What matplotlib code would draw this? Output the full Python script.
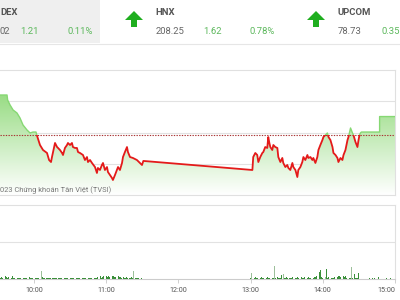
import numpy as np
import matplotlib
matplotlib.use("Agg")
import matplotlib.pyplot as plt
from matplotlib.patches import Rectangle, Polygon

plt.rcParams['font.family'] = ['Roboto', 'DejaVu Sans']

# index levels
ref_price = 1100.81
close_price = 1102.02

# intraday VN-Index (minutes after 9:00)
price_t = [31.7, 37.5, 38.0, 40.0, 42.5, 45.7, 48.2, 50.7, 54.0, 56.5, 58.9, 61.4,
           62.2, 64.7, 67.2, 70.5, 72.2, 73.8, 74.6, 75.5, 77.1, 78.8, 79.6, 81.2,
           82.9, 83.7, 85.3, 87.0, 87.8, 89.5, 91.1, 91.9, 93.6, 95.2, 96.1, 97.7,
           100.2, 101.8, 103.5, 104.3, 106.0, 107.6, 110.1, 111.7, 112.5, 114.2, 115.8, 116.7,
           118.3, 120.0, 120.8, 122.4, 124.1, 124.9, 126.6, 128.2, 129.1, 130.7, 132.4, 133.2,
           134.8, 136.5, 137.3, 139.0, 141.4, 144.7, 147.2, 148.9, 150.0,
           240.0, 240.7, 242.4, 244.0, 244.9, 246.5, 248.2, 249.0, 250.6, 252.3, 253.1, 254.0,
           254.8, 256.4, 257.3, 258.9, 260.6, 261.4, 263.1, 264.7, 265.5, 267.2, 268.8, 269.7,
           271.3, 273.0, 273.8, 275.5, 277.1, 277.9, 279.6, 281.2, 282.1, 283.7, 285.4, 286.2,
           287.9, 289.5, 290.3, 292.0, 293.6, 294.5, 296.1, 297.8, 298.6, 300.3, 301.9, 302.8,
           304.4, 306.1, 306.9, 308.6, 310.2, 311.0, 312.7, 314.3, 315.2, 316.8, 318.5, 319.3,
           321.0, 322.6, 323.4, 325.1, 326.7, 327.6, 328.4, 329.2, 330.0, 345.0, 345.0, 360.0]
price_v = [1103.40, 1103.40, 1103.08, 1102.76, 1102.44, 1102.25, 1101.93, 1101.48, 1101.16, 1100.97, 1101.03, 1101.03,
           1100.81, 1100.20, 1099.88, 1099.69, 1099.24, 1099.11, 1099.43, 1099.75, 1100.33, 1100.07, 1100.01, 1099.88,
           1099.69, 1099.56, 1100.01, 1100.20, 1100.33, 1100.20, 1100.33, 1100.07, 1100.01, 1100.01, 1099.75, 1099.69,
           1099.56, 1099.24, 1099.43, 1099.11, 1099.24, 1099.05, 1098.79, 1098.41, 1098.73, 1098.60, 1098.92, 1099.05,
           1098.60, 1098.79, 1098.47, 1098.28, 1098.09, 1097.96, 1098.28, 1098.60, 1098.79, 1098.60, 1099.05, 1099.43,
           1099.75, 1100.07, 1099.75, 1099.43, 1099.37, 1099.24, 1099.05, 1098.92, 1099.18,
           1098.60, 1099.43, 1099.69, 1099.56, 1099.11, 1099.43, 1099.69, 1099.75, 1100.07, 1100.01, 1100.71, 1100.33,
           1100.07, 1099.88, 1100.20, 1100.07, 1100.01, 1099.43, 1099.11, 1099.37, 1099.05, 1098.79, 1098.92, 1098.73,
           1098.60, 1099.05, 1098.79, 1098.60, 1098.15, 1098.60, 1098.79, 1099.11, 1099.43, 1099.24, 1099.56, 1099.37,
           1099.43, 1099.24, 1099.37, 1099.05, 1099.43, 1099.88, 1100.20, 1100.52, 1100.71, 1100.84, 1100.97, 1100.71,
           1100.52, 1100.07, 1099.69, 1099.56, 1099.37, 1099.11, 1099.37, 1099.24, 1099.56, 1099.88, 1100.52, 1100.71,
           1101.29, 1100.97, 1100.84, 1100.39, 1100.07, 1100.52, 1100.84, 1100.97, 1101.03, 1101.03, 1102.02, 1102.02]

# volume per minute
vol_morning_start = 32
vol_morning = [2, 3, 1.5, 2, 4, 2.5, 1.5, 3, 2, 1.5, 3.5, 2, 1.5, 2, 1, 1.5,
               1, 1.5, 1, 1, 1.5, 1, 1, 1, 3, 1, 1.5, 1,
               1, 1.5, 1, 1, 1.5, 1, 11, 2.5, 2, 1.5, 2, 1.5, 1, 1.5, 1, 1,
               0.7, 0.7, 1, 0.7, 0.7, 0.7, 1, 0.7, 0.7, 0.7, 0.7, 1, 0.7, 0.7, 0.7, 1, 0.7, 0.7, 0.7, 1,
               1, 1.5, 1, 1, 1, 1.5, 1, 1, 1, 1.5, 1, 1, 1, 1.5, 1,
               1.5, 2, 3, 2.5, 4, 2, 3, 4.5, 2, 3.5, 2.5, 4, 3, 2, 3.5, 4.5, 2.5, 3, 2, 3.5, 2.5, 3, 2, 2.5, 1.5,
               2, 2.5, 2, 1.5, 2, 2.5, 2, 11, 1.5, 1, 2, 1, 1.5, 1]
vol_afternoon_start = 240
vol_afternoon = [1, 7.5, 2, 1.5, 2.5, 1.5, 2, 1.5, 2, 2.5, 1.5, 2, 1.5, 2, 2.5, 1.5, 2, 1.5, 2,
                 1.5, 18, 2, 2.5, 1.5, 2, 1.5, 5, 7, 2, 1.5, 2.5, 2, 1.5, 2, 1.5, 2.5, 2, 1.5, 2,
                 2.5, 1.5, 2, 3, 1.5, 2, 2.5, 1.5, 2, 3, 2, 1.5, 2.5, 2, 3, 2.5, 4, 6, 9.5, 12,
                 3, 2, 26.5, 3, 14, 2, 2.5, 1.5, 2, 1.5, 2, 2.5, 2, 3, 3.5, 4, 3, 3.5, 4, 3, 3.5,
                 2, 2.5, 2, 1.5, 16.5, 2, 7, 1.5, 1, 2, 8.5]
vol_late_t = [339, 341, 343, 345, 346, 350, 353, 356]
vol_late = [1, 1, 1, 67, 3, 1, 1.5, 1]
light_bars = [66, 143, 241, 260, 267, 302, 324]

hours = [60, 120, 180, 240, 300, 360]
hour_labels = ['10:00', '11:00', '12:00', '13:00', '14:00', '15:00']

fig = plt.figure(figsize=(4, 3), dpi=100)
x0, x1 = 31.7, 357.7

# price panel
ax = fig.add_axes([0, 0.35, 395 / 400, 125 / 300])
ax.set_facecolor('none')
ax.set_xlim(x0, x1)
ax.set_ylim(1097, 1105)
t = np.array(price_t)
v = np.array(price_v)

poly = ax.fill_between(t, v, 1097, facecolor='none', edgecolor='none')
grad = np.linspace(0, 1, 256).reshape(-1, 1)
rgba = np.zeros((256, 1, 4))
top = np.array([0.50, 0.83, 0.40])
rgba[:, 0, :3] = top * (1 - grad) + grad
rgba[:, 0, 3] = 1.0
img = ax.imshow(rgba, extent=[x0, x1, 1097, 1105], origin='upper', aspect='auto', zorder=1)
img.set_clip_path(poly.get_paths()[0], transform=ax.transData)

for yv in [1099, 1101, 1103]:
    ax.axhline(yv, color='#e2e2e2', lw=0.8, zorder=0.5)
ax.axhline(ref_price, color='#a83232', lw=0.8, ls=(0, (1.2, 1.2)), zorder=3)

red, = ax.plot(t, v, color='#e41a1a', lw=1.3, zorder=4)
red.set_clip_path(Rectangle((x0, 1090), x1 - x0, ref_price - 1090, transform=ax.transData))
green, = ax.plot(t, v, color='#86d873', lw=1.0, zorder=4)
green.set_clip_path(Rectangle((x0, ref_price), x1 - x0, 20, transform=ax.transData))

ax.set_xticks([])
ax.set_yticks([])
ax.spines['left'].set_visible(False)
for s in ['top', 'bottom', 'right']:
    ax.spines[s].set_color('#e0e0e0')
    ax.spines[s].set_linewidth(0.8)

# volume panel
axv = fig.add_axes([0, 21 / 300, 395 / 400, 74 / 300])
axv.set_facecolor('none')
axv.set_xlim(x0, x1)
axv.set_ylim(0, 100)
bt = list(range(vol_morning_start, vol_morning_start + len(vol_morning))) + \
     list(range(vol_afternoon_start, vol_afternoon_start + len(vol_afternoon))) + vol_late_t
bv = vol_morning + vol_afternoon + vol_late
cols = ['#9cbf9a' if m in light_bars else '#3a8f3a' for m in bt]
axv.bar(bt, bv, width=0.7, color=cols, zorder=3)
axv.axhline(50, color='#e2e2e2', lw=0.8, zorder=0)
axv.set_yticks([])
axv.set_xticks(hours, hour_labels)
axv.tick_params(axis='x', length=3, width=0.6, color='#c8c8c8', labelsize=5.2,
                labelcolor='#555555', pad=2.5)
axv.get_xticklabels()[-1].set_ha('right')
axv.spines['left'].set_visible(False)
for s in ['top', 'bottom', 'right']:
    axv.spines[s].set_color('#e0e0e0')
    axv.spines[s].set_linewidth(0.8)
axv.spines['bottom'].set_color('#cccccc')

# header and watermark, pixel coordinates
deco = fig.add_axes([0, 0, 1, 1])
deco.set_xlim(0, 400)
deco.set_ylim(300, 0)
deco.axis('off')
deco.set_zorder(5)
deco.add_patch(Rectangle((0, 0), 100, 43, color='#efefef', lw=0))
deco.plot([0, 400], [43.5, 43.5], color='#e6e6e6', lw=0.8)

up = '#1fae1f'
pos = '#5cb85c'
for cx in [134, 316]:
    deco.add_patch(Polygon([(cx - 9, 20), (cx, 11), (cx + 9, 20), (cx + 3, 20),
                            (cx + 3, 27), (cx - 3, 27), (cx - 3, 20)], color=up, lw=0))

hdr = dict(fontsize=6.8, va='center')
deco.text(0, 12.5, 'DEX', fontweight='bold', color='#555555', **hdr)
deco.text(0, 31, '02', color='#666666', **hdr)
deco.text(20.5, 31, '1.21', color=pos, **hdr)
deco.text(67, 31, '0.11%', color=pos, **hdr)
deco.text(155.5, 12.5, 'HNX', fontweight='bold', color='#555555', **hdr)
deco.text(155.5, 31, '208.25', color='#666666', **hdr)
deco.text(203, 31, '1.62', color=pos, **hdr)
deco.text(250, 31, '0.78%', color=pos, **hdr)
deco.text(338, 12.5, 'UPCOM', fontweight='bold', color='#555555', **hdr)
deco.text(338, 31, '78.73', color='#666666', **hdr)
deco.text(382, 31, '0.35', color=pos, **hdr)

deco.text(0, 190, '023 Chứng khoán Tân Việt (TVSI)', ha='left', va='center',
          fontsize=5.4, color='#777777')

fig.savefig('out.png', dpi=100)
